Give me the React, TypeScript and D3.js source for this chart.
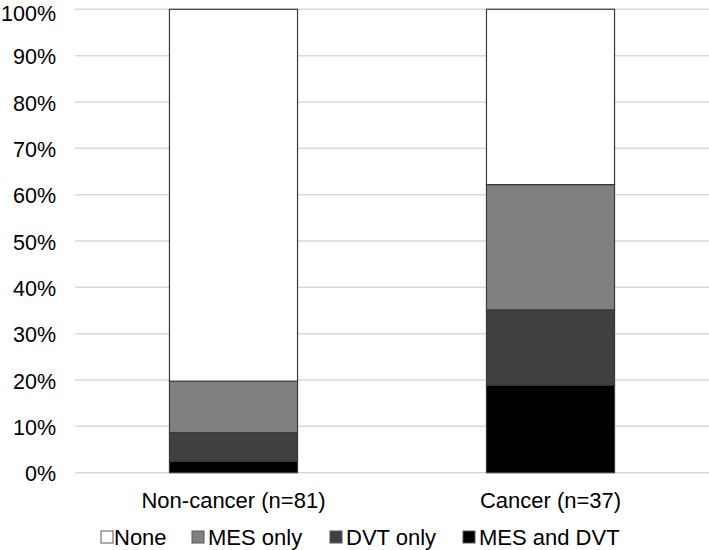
import React from "react";
import * as d3 from "d3";

const categories = ["Non-cancer (n=81)", "Cancer (n=37)"];
const seriesNames = ["MES and DVT", "DVT only", "MES only", "None"];
const mesAndDvt = [2.47, 18.92];
const dvtOnly = [6.17, 16.22];
const mesOnly = [11.11, 27.03];
const none = [80.25, 37.84];
const seriesColors = ["#000000", "#404040", "#808080", "#ffffff"];
const yTicks = [0, 10, 20, 30, 40, 50, 60, 70, 80, 90, 100];
const legendOrder = ["None", "MES only", "DVT only", "MES and DVT"];

const W = 709;
const H = 550;
const FONT = "'Liberation Sans', Arial, sans-serif";

export default function App() {
  const values = [mesAndDvt, dvtOnly, mesOnly, none];
  const rows = categories.map((c, i) => {
    const r: any = { cat: c };
    seriesNames.forEach((s, j) => (r[s] = values[j][i]));
    return r;
  });
  const stacked = d3.stack<any>().keys(seriesNames)(rows);

  const x = d3.scaleBand().domain(categories).range([75, 709]).padding(0);
  const barW = x.bandwidth() * 0.404;
  const y = d3.scaleLinear().domain([0, 100]).range([472.7, 9.3]);

  const legendItems = [
    { name: "None", sx: 101, tx: 114 },
    { name: "MES only", sx: 192, tx: 208 },
    { name: "DVT only", sx: 330, tx: 346 },
    { name: "MES and DVT", sx: 463, tx: 479 },
  ];
  const colorOf = (n: string) => seriesColors[seriesNames.indexOf(n)];

  return (
    <svg
      width={W}
      height={H}
      style={{ position: "absolute", left: 0, top: 0, background: "#fff" }}
      fontFamily={FONT}
    >
      {yTicks.map((t) => (
        <g key={t}>
          <line x1={75} x2={709} y1={y(t)} y2={y(t)} stroke="#d9d9d9" strokeWidth={1.5} />
          <text x={56} y={Math.max(y(t), 12)} dy="0.4em" textAnchor="end" fontSize={21.5} fill="#000">
            {t}%
          </text>
        </g>
      ))}
      {stacked.map((layer, j) => (
        <g key={layer.key} fill={seriesColors[j]}>
          {layer.map((d, i) => {
            const cx = (x(categories[i]) as number) + x.bandwidth() / 2;
            return (
              <rect
                key={i}
                x={cx - barW / 2}
                y={y(d[1])}
                width={barW}
                height={y(d[0]) - y(d[1])}
                stroke="#3a3a3a"
                strokeWidth={1.2}
              />
            );
          })}
        </g>
      ))}
      {categories.map((c) => (
        <text
          key={c}
          x={(x(c) as number) + x.bandwidth() / 2}
          y={508}
          textAnchor="middle"
          fontSize={22}
          fill="#000"
        >
          {c}
        </text>
      ))}
      {legendItems
        .filter((l) => legendOrder.includes(l.name))
        .map((l) => (
          <g key={l.name}>
            <rect
              x={l.sx}
              y={531}
              width={12}
              height={12}
              fill={colorOf(l.name)}
              stroke="#595959"
              strokeWidth={1}
            />
            <text x={l.tx} y={545} fontSize={22} fill="#000">
              {l.name}
            </text>
          </g>
        ))}
    </svg>
  );
}
